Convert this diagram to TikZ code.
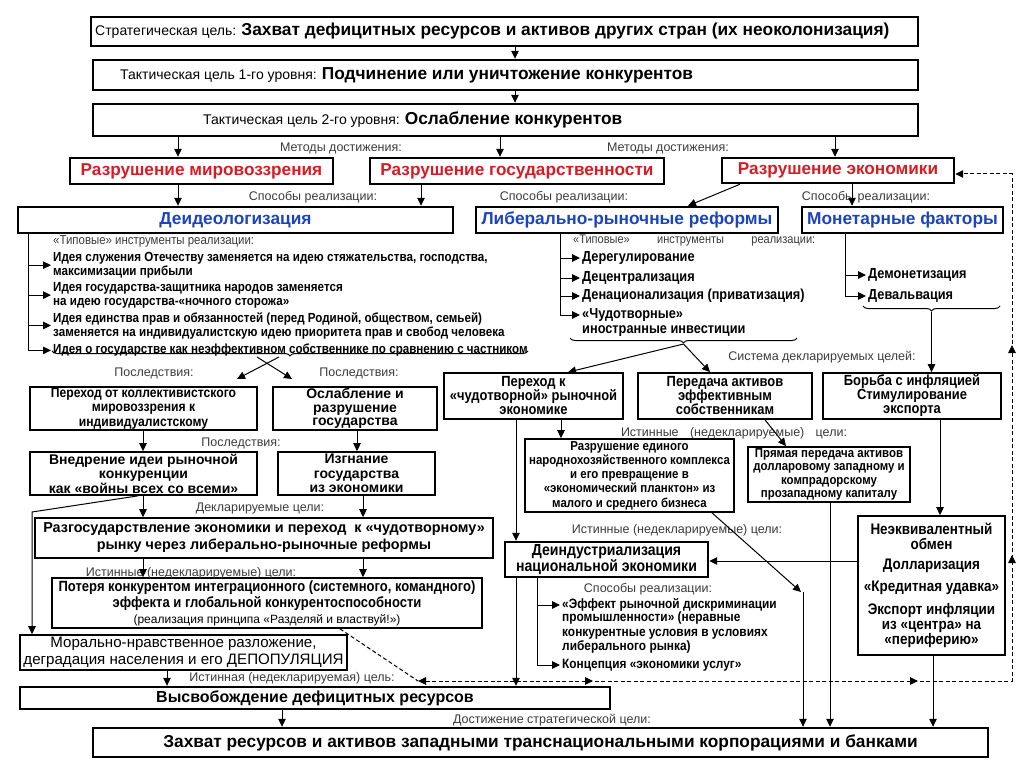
\documentclass[tikz,border=0pt]{standalone}
\usepackage{fontspec}
\setmainfont{Liberation Sans}
\newfontfamily\nar[FakeStretch=0.88]{Liberation Sans}
\usetikzlibrary{arrows.meta,decorations.pathreplacing,decorations.markings}
\definecolor{redt}{RGB}{214,28,36}
\definecolor{bluet}{RGB}{28,68,190}
\definecolor{lblc}{RGB}{60,60,60}
\newcommand\fsz[2]{\fontsize{#1}{#2}\selectfont}
\begin{document}
\begin{tikzpicture}[x=1pt,y=-1pt,
  bx/.style={draw,line width=2.4pt,inner sep=0pt,align=center},
  sbx/.style={draw,line width=1.7pt,inner sep=0pt,align=center},
  tx/.style={inner sep=0pt},
  lbl/.style={inner sep=0pt,text=lblc,font=\fsz{12.5}{14}},
  itw/.style={inner sep=0pt,anchor=west,text height=8.5pt,text depth=2.5pt},
  itn/.style={inner sep=0pt,anchor=north west,align=left},
  ln/.style={line width=1pt},
  arr/.style={line width=1pt,-{Triangle[length=8pt,width=7.5pt]}},
  dsh/.style={line width=1pt,dash pattern=on 4pt off 2.5pt}
]
\useasboundingbox (0,0) rectangle (1024,767);
\fill[white] (0,0) rectangle (1024,767);

% x positions
\foreach \v in {28,138,143,167,178,282,340,357,363,421,500,515,516,537,560,561,568,688,710,712,740,765,786,803,830,835,845,852,933,940}
  {\coordinate (x\v) at (\v,0);}
\coordinate (ky) at (0,561);

% top boxes
\node[bx,minimum width=827pt,minimum height=29pt] (S) at (504.5,31.5) {};
\node[tx,anchor=west] (St) at (95,31.5) {\fsz{14}{16}Стратегическая цель: \bfseries\fsz{17.3}{19}Захват дефицитных ресурсов и активов других стран (их неоколонизация)};
\node[bx,minimum width=825pt,minimum height=30pt] (T1) at (505.5,75) {};
\node[tx,anchor=west] (T1t) at (120,75) {\fsz{14}{16}Тактическая цель 1-го уровня: \bfseries\fsz{17.3}{19}Подчинение или уничтожение конкурентов};
\node[bx,minimum width=825pt,minimum height=32pt] (T2) at (505.5,120) {};
\node[tx,anchor=west] (T2t) at (203,120) {\fsz{14}{16}Тактическая цель 2-го уровня: \bfseries\fsz{17.3}{19}Ослабление конкурентов};

\node[bx,minimum width=263pt,minimum height=26pt,text=redt,font=\bfseries\fsz{17.2}{19}] (R1) at (201.5,171) {Разрушение мировоззрения};
\node[bx,minimum width=294pt,minimum height=26pt,text=redt,font=\bfseries\fsz{17.2}{19}] (R2) at (517,171) {Разрушение государственности};
\node[bx,minimum width=232pt,minimum height=25pt,text=redt,font=\bfseries\fsz{17.2}{19}] (R3) at (838,170.5) {Разрушение экономики};

\node[bx,minimum width=435pt,minimum height=26pt,text=bluet,font=\bfseries\fsz{17.3}{19}] (B1) at (235.5,220) {Деидеологизация};
\node[bx,minimum width=302pt,minimum height=26pt,text=bluet,font=\bfseries\fsz{17.3}{19}] (B2) at (627,220) {Либерально-рыночные реформы};
\node[bx,minimum width=201pt,minimum height=26pt,text=bluet,font=\bfseries\fsz{17.3}{19}] (B3) at (902.5,220) {Монетарные факторы};

% left column boxes
\node[sbx,minimum width=227pt,minimum height=43pt,font=\nar\bfseries\fsz{13.8}{14.5}] (C1) at (143.5,408.5) {Переход от коллективистского\\мировоззрения к\\индивидуалистскому};
\node[sbx,minimum width=164pt,minimum height=43pt,font=\bfseries\fsz{14}{13.5}] (C2) at (355,408.5) {Ослабление и\\разрушение\\государства};
\node[sbx,minimum width=227pt,minimum height=43pt,font=\bfseries\fsz{14}{14.5}] (D1) at (143.5,473.5) {Внедрение идеи рыночной\\конкуренции\\как «войны всех со всеми»};
\node[sbx,minimum width=157pt,minimum height=43pt,font=\bfseries\fsz{14}{14.5}] (D2) at (356.5,473.5) {Изгнание\\государства\\из экономики};
\node[sbx,minimum width=458pt,minimum height=40pt,font=\bfseries\fsz{14.4}{17}] (E) at (264,538) {Разгосударствление экономики и переход\ \ к «чудотворному»\\рынку через либерально-рыночные реформы};
\node[sbx,minimum width=430pt,minimum height=50pt,font=\nar\bfseries\fsz{14.8}{16}] (F) at (267,603) {Потеря конкурентом интеграционного (системного, командного)\\эффекта и глобальной конкурентоспособности\\{\normalfont\fsz{12}{16}(реализация принципа «Разделяй и властвуй!»)}};
\node[sbx,minimum width=327pt,minimum height=35pt,font=\fsz{15.1}{17}] (G) at (183.5,652.5) {Морально-нравственное разложение,\\деградация населения и его ДЕПОПУЛЯЦИЯ};
\node[bx,minimum width=590pt,minimum height=22pt,font=\bfseries\fsz{16}{18}] (H) at (315,698) {Высвобождение дефицитных ресурсов};
\node[bx,minimum width=895pt,minimum height=29pt,font=\bfseries\fsz{17.3}{19}] (I) at (540.5,742.5) {Захват ресурсов и активов западными транснациональными корпорациями и банками};

% right part boxes
\node[sbx,minimum width=179pt,minimum height=46pt,font=\nar\bfseries\fsz{14.7}{14}] (P1) at (533.5,396) {Переход к\\«чудотворной» рыночной\\экономике};
\node[sbx,minimum width=174pt,minimum height=46pt,font=\nar\bfseries\fsz{14.7}{14}] (P2) at (725,396) {Передача активов\\эффективным\\собственникам};
\node[sbx,minimum width=178pt,minimum height=46pt,font=\nar\bfseries\fsz{14.7}{14}] (P3) at (912,396) {Борьба с инфляцией\\Стимулирование\\экспорта};
\node[sbx,minimum width=209pt,minimum height=73pt,font=\nar\bfseries\fsz{13}{14.3}] (Q1) at (629.5,475.5) {Разрушение единого\\народнохозяйственного комплекса\\и его превращение в\\«экономический планктон» из\\малого и среднего бизнеса};
\node[sbx,minimum width=162pt,minimum height=55pt,font=\nar\bfseries\fsz{13}{13.5}] (Q2) at (829,474.5) {Прямая передача активов\\долларовому западному и\\компрадорскому\\прозападному капиталу};
\node[bx,minimum width=203pt,minimum height=35pt,font=\nar\bfseries\fsz{16}{15.5}] (K) at (606.5,559.5) {Деиндустриализация\\национальной экономики};
\node[sbx,minimum width=147pt,minimum height=139pt,font=\nar\bfseries\fsz{15.3}{15}] (N) at (931.5,585.5) {Неэквивалентный\\обмен\\[5pt]Долларизация\\[7pt]«Кредитная удавка»\\[8pt]Экспорт инфляции\\из «центра» на\\«периферию»};

% item lists
\node[itn,font=\nar\bfseries\fsz{13.2}{14}] (it1) at (53,252) {Идея служения Отечеству заменяется на идею стяжательства, господства,\\максимизации прибыли};
\node[itn,font=\nar\bfseries\fsz{13.2}{14}] (it2) at (53,282) {Идея государства-защитника народов заменяется\\на идею государства-«ночного сторожа»};
\node[itn,font=\nar\bfseries\fsz{13.2}{14}] (it3) at (53,312) {Идея единства прав и обязанностей (перед Родиной, обществом, семьей)\\заменяется на индивидуалистскую идею приоритета прав и свобод человека};
\node[itn,font=\nar\bfseries\fsz{13.2}{14}] (it4) at (53,344) {Идея о государстве как неэффективном собственнике по сравнению с частником};

\node[itw,font=\nar\bfseries\fsz{14.5}{15}] (j1) at (582,258) {Дерегулирование};
\node[itw,font=\nar\bfseries\fsz{14.5}{15}] (j2) at (582,278) {Децентрализация};
\node[itw,font=\nar\bfseries\fsz{14.5}{15}] (j3) at (582,296) {Денационализация (приватизация)};
\node[itw,font=\nar\bfseries\fsz{14.5}{15}] (j4) at (582,315) {«Чудотворные»};
\node[itw,font=\nar\bfseries\fsz{14.5}{15}] (j5) at (582,330) {иностранные инвестиции};

\node[itw,font=\nar\bfseries\fsz{14.5}{15}] (m1) at (868,275) {Демонетизация};
\node[itw,font=\nar\bfseries\fsz{14.5}{15}] (m2) at (868,296) {Девальвация};

\node[itw,font=\nar\bfseries\fsz{13.5}{14.5}] (k1) at (562,605) {«Эффект рыночной дискриминации};
\node[itn,font=\nar\bfseries\fsz{13.5}{14.5}] (k1b) at (562,612) {промышленности» (неравные\\конкурентные условия в условиях\\либерального рынка)};
\node[itw,font=\nar\bfseries\fsz{13.5}{14.5}] (k2) at (562,665) {Концепция «экономики услуг»};

% labels
\node[lbl] (lm1) at (341,148) {Методы достижения:};
\node[lbl] (lm2) at (668,148) {Методы достижения:};
\node[lbl] (ls1) at (313,197) {Способы реализации:};
\node[lbl] (ls2) at (564,197) {Способы реализации:};
\node[lbl] (ls3) at (866,197) {Способы реализации:};
\node[lbl,anchor=west,font=\nar\fsz{13}{14}] (lt1) at (53,241) {«Типовые» инструменты реализации:};
\node[lbl,anchor=west,font=\nar\fsz{12.5}{14}] (lt2) at (573,240) {\hbox to 242pt{«Типовые»\hfill инструменты\hfill реализации:}};
\node[lbl] (lp1) at (154,373) {Последствия:};
\node[lbl] (lp2) at (359,373) {Последствия:};
\node[lbl] (lp3) at (241,443) {Последствия:};
\node[lbl] (ld) at (260,508) {Декларируемые цели:};
\node[lbl] (li1) at (191,573) {Истинные (недекларируемые) цели:};
\node[lbl] (lsys) at (822,357) {Система декларируемых целей:};
\node[lbl] (li2) at (734,433) {\hbox to 226pt{Истинные\hfill(недекларируемые)\hfill цели:}};
\node[lbl] (li3) at (677,530) {Истинные (недекларируемые) цели:};
\node[lbl] (ls4) at (648,589) {Способы реализации:};
\node[lbl] (li4) at (292,678) {Истинная (недекларируемая) цель:};
\node[lbl] (lach) at (552,720) {Достижение стратегической цели:};

% braces
\coordinate (b1a) at (52,351); \coordinate (b1b) at (528,351);
\draw[ln,decorate,decoration={brace,mirror,amplitude=5pt}] (b1a) -- (b1b);
\coordinate (b2a) at (570,338); \coordinate (b2b) at (797,338);
\draw[ln,decorate,decoration={brace,mirror,amplitude=5pt}] (b2a) -- (b2b);
\coordinate (b3a) at (863,306); \coordinate (b3b) at (1000,306);
\draw[ln,decorate,decoration={brace,mirror,amplitude=5pt}] (b3a) -- (b3b);
\coordinate (xl1) at (279,357); \coordinate (xl2) at (257,357);
\coordinate (brL) at (237,379); \coordinate (brR) at (292,379);
\coordinate (bt2) at (683.5,344); \coordinate (bt3) at (931.5,312);

% connectors top
\draw[arr] (S.south -| x515) -- (T1.north -| x515);
\draw[arr] (T1.south -| x515) -- (T2.north -| x515);
\draw[arr] (T2.south -| x178) -- (R1.north -| x178);
\draw[arr] (T2.south -| x500) -- (R2.north -| x500);
\draw[arr] (T2.south -| x835) -- (R3.north -| x835);
\draw[arr] (R1.south -| x178) -- (B1.north -| x178);
\draw[arr] (R2.south -| x421) -- (B1.north -| x421);
\draw[arr] (R3.south -| x740) -- (B2.north -| x688);
\draw[arr] (R3.south -| x852) -- (B3.north -| x852);

% B1 list
\draw[ln] (B1.south -| x28) -- (x28 |- it4.west);
\foreach \n in {it1,it2,it3,it4} \draw[arr,shorten >=2pt] (x28 |- \n.west) -- (\n.west);
% B2 list
\draw[ln] (B2.south -| x560) -- (x560 |- j4.west);
\foreach \n in {j1,j2,j3,j4} \draw[arr,shorten >=2pt] (x560 |- \n.west) -- (\n.west);
% B3 list
\draw[ln] (B3.south -| x845) -- (x845 |- m2.west);
\foreach \n in {m1,m2} \draw[arr,shorten >=2pt] (x845 |- \n.west) -- (\n.west);

% consequences
\draw[arr] (xl1) -- (brL);
\draw[arr] (xl2) -- (brR);
\draw[arr] (C1.south -| x143) -- (D1.north -| x143);
\draw[arr] (C2.south -| x357) -- (D2.north -| x357);
\draw[arr] (D1.south -| x143) -- (E.north -| x143);
\draw[arr] (D2.south -| x363) -- (E.north -| x363);
\draw[arr] (E.south -| x143) -- (F.north -| x143);
\draw[arr] (E.south -| x363) -- (F.north -| x363);
\coordinate (dg1) at (32,512);
\draw[arr] (D1.south -| x138) -- (dg1) -- (G.north -| dg1);
\draw[arr] (G.south -| x167) -- (H.north -| x167);
\draw[arr] (H.south -| x282) -- (I.north -| x282);

% right part
\draw[arr] (bt2) -- (P1.north -| x568);
\draw[arr] (bt2) -- (P2.north -| x710);
\draw[arr] (bt3) -- (P3.north -| bt3);
\draw[arr] (P1.south -| x561) -- (Q1.north -| x561);
\draw[arr] (P1.south -| x516) -- (K.north -| x516);
\draw[arr] (P2.south -| x765) -- (Q2.north -| x786);
\draw[arr] (P3.south -| x940) -- (N.north -| x940);
\draw[arr] (Q2.south -| x830) -- (I.north -| x830);
\coordinate (q1e) at (801,592);
\draw[arr] (Q1.south -| x712) -- (q1e);
\draw[arr] (x803 |- q1e) -- (I.north -| x803);
\draw[arr] (N.west |- ky) -- (K.east |- ky);
\draw[arr] (N.south -| x933) -- (I.north -| x933);
\draw[arr] (K.south -| x516) -- (H.north -| x516);
\draw[ln] (K.south -| x537) -- (x537 |- k2.west);
\foreach \n in {k1,k2} \draw[arr,shorten >=2pt] (x537 |- \n.west) -- (\n.west);

% dashed feedback loop
\coordinate (lpA) at (418,681); \coordinate (lpB) at (1012,681); \coordinate (lpC) at (1012,174);
\draw[dsh] (F.south -| x340) -- (lpA);
\draw[dsh,{Triangle[length=8pt,width=7.5pt]}-{Triangle[length=8pt,width=7.5pt]},
  postaction={decorate},
  decoration={markings,
    mark=at position 175pt with {\arrow{Triangle[length=8pt,width=7.5pt]}},
    mark=at position 500pt with {\arrow{Triangle[length=8pt,width=7.5pt]}},
    mark=at position 720pt with {\arrow{Triangle[length=8pt,width=7.5pt]}},
    mark=at position 930pt with {\arrow{Triangle[length=8pt,width=7.5pt]}}}]
  (lpA) -- (lpB) -- (lpC) -- (R3.east |- lpC);
\end{tikzpicture}
\end{document}
